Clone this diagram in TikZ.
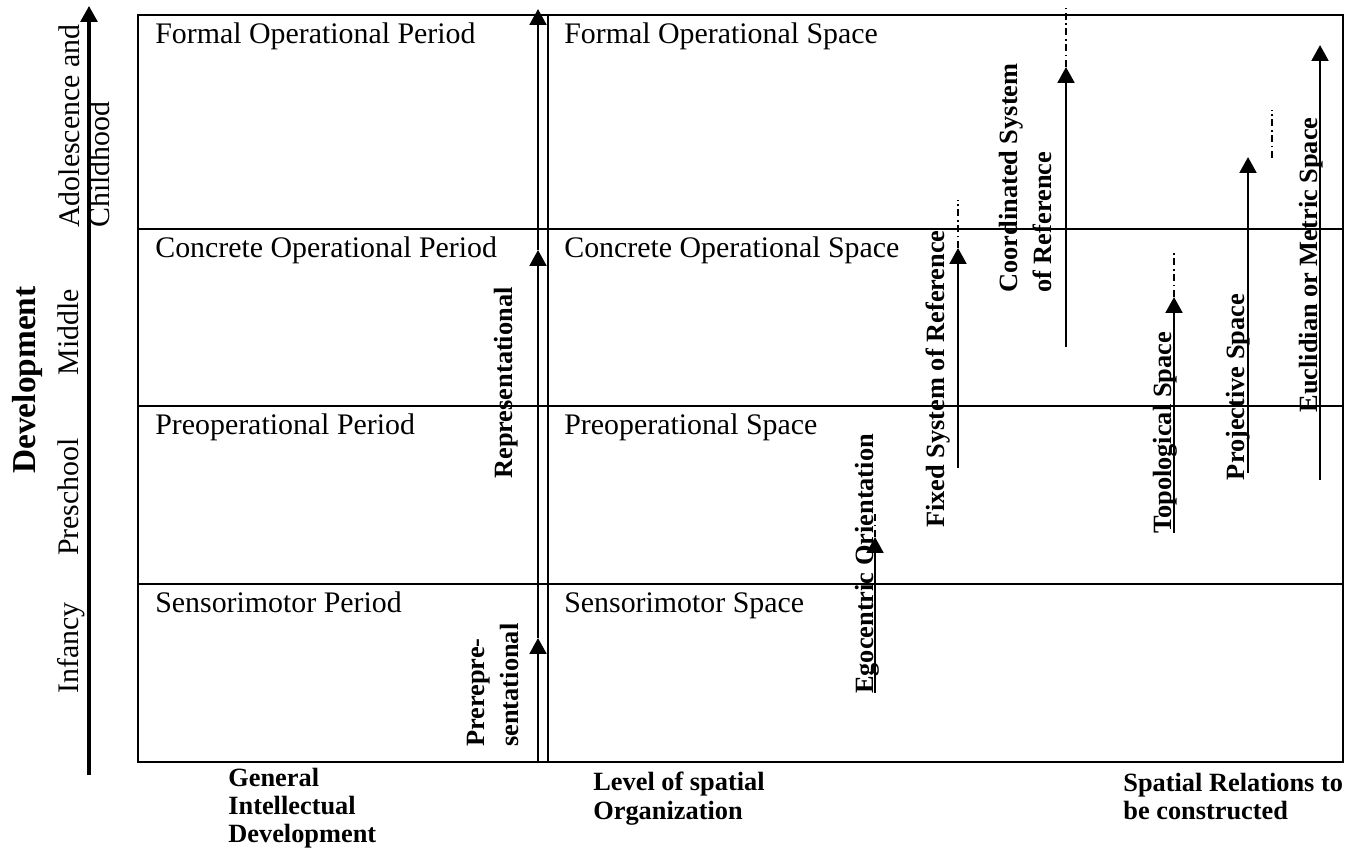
\documentclass[tikz,border=0pt]{standalone}
\usepackage{fontspec}
\setmainfont{Liberation Serif}
\usetikzlibrary{arrows.meta, positioning, calc}

\begin{document}
\begin{tikzpicture} [
    x=0.02cm, y=-0.02cm,
    frame/.style={line width=0.8pt},
    period/.style={anchor=base west, inner sep=0pt, font=\fontsize{17}{20}\selectfont},
    stage/.style={rotate=90, anchor=base, inner sep=0pt, font=\fontsize{17}{20}\selectfont},
    relation/.style={rotate=90, anchor=base, inner sep=0pt, font=\bfseries\fontsize{15}{18}\selectfont},
    twoline/.style={rotate=90, inner sep=0pt, align=left, font=\bfseries\fontsize{15}{19}\selectfont},
    axislabel/.style={anchor=north west, inner sep=0pt, align=left, font=\bfseries\fontsize{15}{16}\selectfont},
    arrow/.style={-{Triangle[width=9.5pt,length=9pt]}, line width=1.5pt},
    trail/.style={line width=0.6pt, dash pattern=on 4pt off 2pt on 1pt off 2pt}
]
\useasboundingbox (0,0) rectangle (1354,848);

% Layer 1: frame, rows and column divider
\draw[frame] (138,15) rectangle (1343,762);
\foreach \y in {229,406,584}
    \draw[frame] (138,\y) -- (1343,\y);
\draw[frame] (548,15) -- (548,762);

% Development axis
\coordinate (dev_bot) at (89,775);
\coordinate (dev_top) at (89,6);
\draw[arrow, line width=1.8pt] (dev_bot) -- (dev_top);
\node[rotate=90, anchor=base, inner sep=0pt, font=\bfseries\fontsize{19}{22}\selectfont] (dev) at (35,380) {Development};
\node[stage] (infancy) at (78,648) {Infancy};
\node[stage] (preschool) at (78,497) {Preschool};
\node[stage] (middle) at (78,332) {Middle};
\node[rotate=90, anchor=north west, inner sep=0pt, align=left, font=\fontsize{17}{17.5}\selectfont] (adol) at (58,228) {Adolescence and\\Childhood};

% Periods and spaces
\node[period] (formal_p) at (155,44) {Formal Operational Period};
\node[period] (concrete_p) at (155,257) {Concrete Operational Period};
\node[period] (preop_p) at (155,434) {Preoperational Period};
\node[period] (sensori_p) at (155,612) {Sensorimotor Period};
\node[period] (formal_s) at (564,44) {Formal Operational Space};
\node[period] (concrete_s) at (564,257) {Concrete Operational Space};
\node[period] (preop_s) at (564,434) {Preoperational Space};
\node[period] (sensori_s) at (564,612) {Sensorimotor Space};

% Intellectual development arrows
\coordinate (pre_s) at (538,762);
\coordinate (pre_t) at (538,638);
\coordinate (rep_t) at (538,250);
\coordinate (top_t) at (538,9);
\draw[arrow] (pre_s) -- (pre_t);
\draw[arrow] (pre_t) -- (rep_t);
\draw[arrow] (rep_t) -- (top_t);
\node[twoline, anchor=north west] (prerep) at (467,747) {Prerepre-\\sentational};
\node[relation] (rep) at (512,383) {Representational};

% Spatial relations
\coordinate (ego_s) at (875,693);
\coordinate (ego_t) at (875,537);
\coordinate (ego_e) at (875,512);
\coordinate (fix_s) at (958,468);
\coordinate (fix_t) at (958,248);
\coordinate (fix_e) at (958,200);
\coordinate (coo_s) at (1066,347);
\coordinate (coo_t) at (1066,67);
\coordinate (coo_e) at (1066,8);
\coordinate (top_s) at (1174,533);
\coordinate (top_tt) at (1174,297);
\coordinate (top_e) at (1174,250);
\coordinate (pro_s) at (1248,473);
\coordinate (pro_t) at (1248,157);
\coordinate (pro_a) at (1272,158);
\coordinate (pro_e) at (1272,110);
\coordinate (euc_s) at (1320,480);
\coordinate (euc_t) at (1320,45);

\draw[arrow] (ego_s) -- (ego_t);
\draw[trail] (ego_t) -- (ego_e);
\draw[arrow] (fix_s) -- (fix_t);
\draw[trail] (fix_t) -- (fix_e);
\draw[arrow] (coo_s) -- (coo_t);
\draw[trail] (coo_t) -- (coo_e);
\draw[arrow] (top_s) -- (top_tt);
\draw[trail] (top_tt) -- (top_e);
\draw[arrow] (pro_s) -- (pro_t);
\draw[trail] (pro_a) -- (pro_e);
\draw[arrow] (euc_s) -- (euc_t);

\node[relation] (ego) at (873,564) {Egocentric Orientation};
\node[relation] (fix) at (944,379) {Fixed System of Reference};
\node[twoline, anchor=north west] (coo) at (999,293) {Coordinated System\\of Reference};
\node[relation] (topo) at (1171,433) {Topological Space};
\node[relation] (proj) at (1244,387) {Projective Space};
\node[relation] (eucl) at (1317,265) {Euclidian or Metric Space};

% Column captions
\node[axislabel] (gen) at (228,768) {General\\Intellectual\\Development};
\node[axislabel] (level) at (593,772) {Level of spatial\\Organization};
\node[axislabel] (rel) at (1123,773) {Spatial Relations to\\be constructed};

\end{tikzpicture}
\end{document}
